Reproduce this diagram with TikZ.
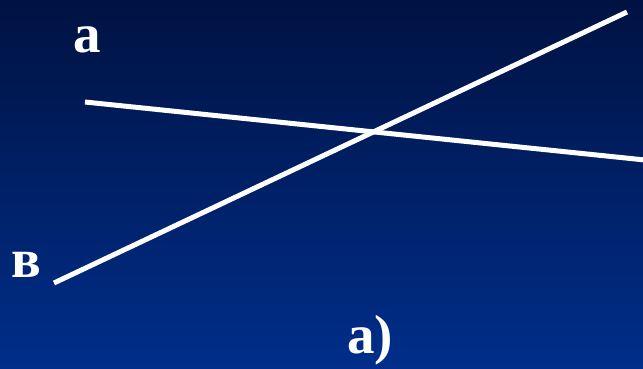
\documentclass[tikz,border=0pt]{standalone}
\usepackage{fontspec}
\setmainfont{Liberation Serif}
\begin{document}
\begin{tikzpicture}[x=1pt,y=-1pt,
  lbl/.style={text=white,font=\bfseries\fontsize{55}{55}\selectfont,inner sep=0pt},
  wline/.style={white,line width=5pt}]
\shade[top color={rgb,255:red,0;green,18;blue,66},bottom color={rgb,255:red,0;green,46;blue,138}] (0,0) rectangle (643,368);
\useasboundingbox (0,0) rectangle (643,368);
\coordinate (a1) at (85,102);
\coordinate (a2) at (645,160);
\coordinate (b1) at (54,283);
\coordinate (b2) at (627,12);
\draw[wline] (a1) -- (a2);
\draw[wline] (b1) -- (b2);
\node[lbl,anchor=base] (la) at (87,52) {a};
\node[lbl,anchor=base] (lb) at (26,277) {в};
\node[lbl,anchor=base] (lc) at (370,353) {a)};
\end{tikzpicture}
\end{document}
